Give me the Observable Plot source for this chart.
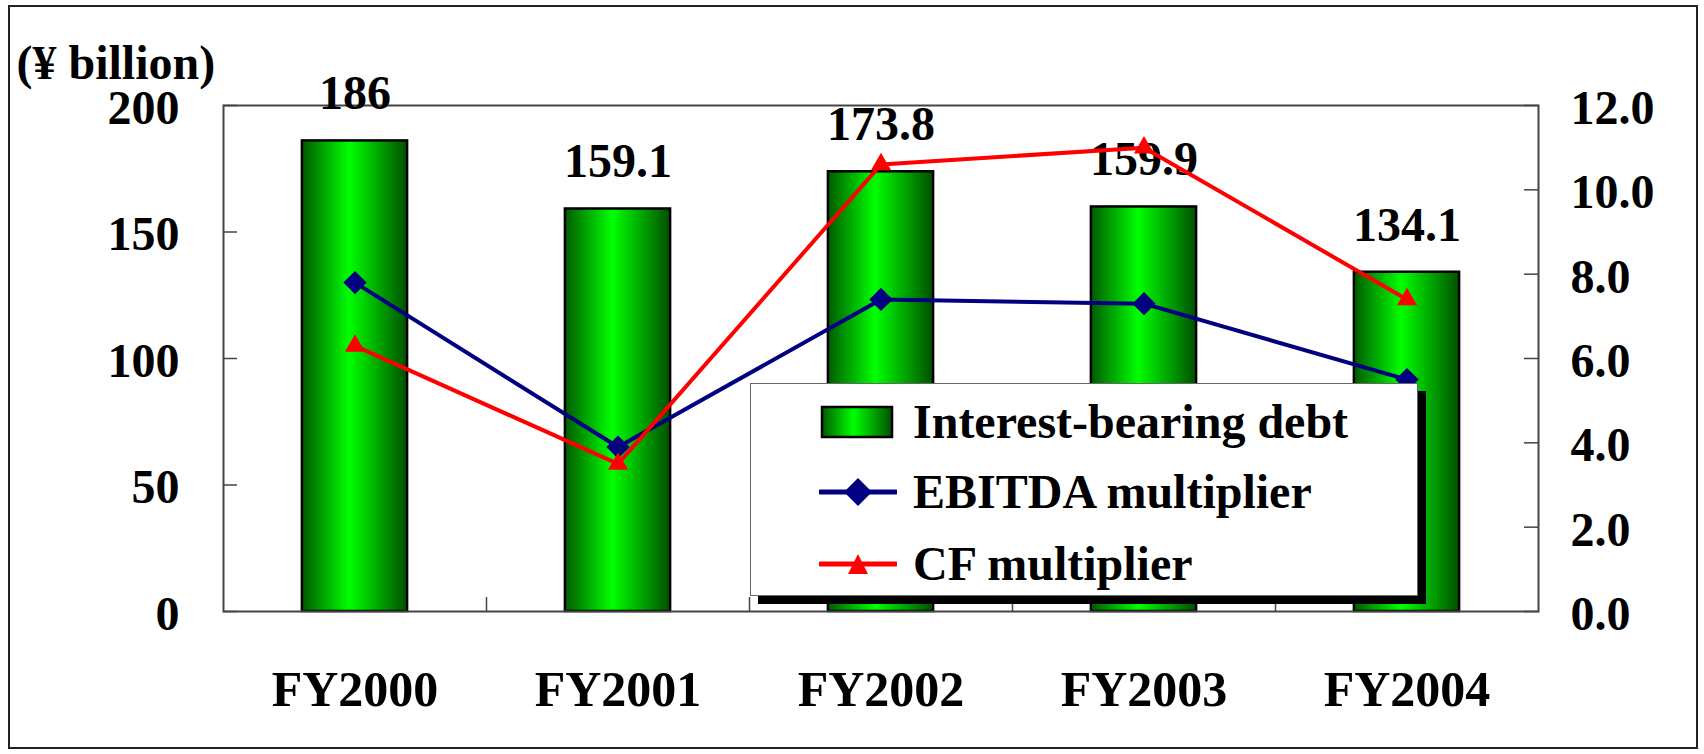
<!DOCTYPE html>
<html><head><meta charset="utf-8">
<script src="https://cdn.jsdelivr.net/npm/d3@7"></script>
<script src="https://cdn.jsdelivr.net/npm/@observablehq/plot@0.6"></script>
<style>
html,body{margin:0;padding:0;background:#fff;}
#wrap{position:relative;width:1704px;height:754px;overflow:hidden;font-family:"Liberation Serif","Times New Roman",serif;font-weight:bold;}
#border{position:absolute;left:8px;top:5px;width:1686px;height:740px;border:2px solid #222;pointer-events:none;}
#legend{position:absolute;left:750px;top:383px;width:666px;height:211px;background:#fff;border:1.5px solid #666;box-shadow:8px 8px 0 #000;}
.row{position:absolute;left:68px;height:50px;display:flex;align-items:center;font-size:48px;line-height:50px;color:#000;white-space:nowrap;}
.row svg{margin-right:16px;}
</style></head>
<body><div id="wrap"><div id="chart"></div><div id="legend"></div><div id="border"></div></div>
<script>
const categories = ["FY2000", "FY2001", "FY2002", "FY2003", "FY2004"];
const debt = [186, 159.1, 173.8, 159.9, 134.1];
const ebitda = [7.8, 3.9, 7.4, 7.3, 5.5];
const cf = [6.3, 3.5, 10.6, 11.0, 7.4];
const leftTicks = [0, 50, 100, 150, 200];
const rightTicks = [0, 2, 4, 6, 8, 10, 12];
const seriesNames = ["Interest-bearing debt", "EBITDA multiplier", "CF multiplier"];
const unitLabel = "(¥ billion)";

const W = 1704, H = 754, mL = 223, mR = 166, mT = 105, mB = 143;
const plotW = W - mL - mR, plotH = H - mT - mB;
const ratio = 200 / 12;
const font = {fontFamily: "Liberation Serif, Times New Roman, serif", fontWeight: "bold", fontSize: 48};

const rows = categories.map((c, i) => ({i, c, debt: debt[i], ebitda: ebitda[i], cf: cf[i]}));
const boundaries = categories.slice(1).map((_, i) => i + 0.5);

const chart = Plot.plot({
  width: W, height: H,
  marginLeft: mL, marginRight: mR, marginTop: mT, marginBottom: mB,
  style: {background: "transparent", color: "#000", overflow: "visible"},
  x: {domain: [-0.5, categories.length - 0.5]},
  y: {domain: [0, 200]},
  marks: [
    Plot.rectY(rows, {x1: d => d.i - 0.2, x2: d => d.i + 0.2, y: "debt", fill: "url(#barGrad)", stroke: "#000", strokeWidth: 2.5}),
    Plot.frame({stroke: "#444", strokeWidth: 2}),
    Plot.ruleY(leftTicks, {insetRight: plotW - 14, stroke: "#444", strokeWidth: 1.5}),
    Plot.ruleY(rightTicks.map(v => v * ratio), {insetLeft: plotW - 14, stroke: "#444", strokeWidth: 1.5}),
    Plot.ruleX(boundaries, {insetTop: plotH - 14, stroke: "#444", strokeWidth: 1.5}),
    Plot.axisY({ticks: leftTicks, tickSize: 0, tickPadding: 44, dy: 3, label: null, ...font}),
    Plot.axisY({anchor: "right", ticks: rightTicks.map(v => v * ratio), tickFormat: v => (v / ratio).toFixed(1), tickSize: 0, tickPadding: 32, dy: 3, label: null, ...font}),
    Plot.axisX({ticks: rows.map(d => d.i), tickFormat: i => categories[i], tickSize: 0, tickPadding: 59, label: null, fontFamily: font.fontFamily, fontWeight: "bold", fontSize: 50}),
    Plot.text([unitLabel], {frameAnchor: "top-left", dx: -207, dy: -42, textAnchor: "start", lineAnchor: "middle", text: d => d, ...font}),
    Plot.text(rows, {x: "i", y: "debt", text: d => String(d.debt), dy: -47, ...font}),
    Plot.line(rows, {x: "i", y: d => d.ebitda * ratio, stroke: "#000080", strokeWidth: 4}),
    Plot.dot(rows, {x: "i", y: d => d.ebitda * ratio, symbol: "diamond2", r: 10.5, fill: "#000080"}),
    Plot.line(rows, {x: "i", y: d => d.cf * ratio, stroke: "#ff0000", strokeWidth: 4}),
    Plot.dot(rows, {x: "i", y: d => d.cf * ratio, symbol: "triangle", r: 7.5, fill: "#ff0000"})
  ]
});

const gradStops = [[0, "#005a00"], [0.45, "#00ff00"], [1, "#005000"]];
const defs = d3.select(chart).insert("defs", ":first-child");
const grad = defs.append("linearGradient").attr("id", "barGrad").attr("x1", 0).attr("x2", 1).attr("y1", 0).attr("y2", 0);
gradStops.forEach(([o, c]) => grad.append("stop").attr("offset", o).attr("stop-color", c));
document.getElementById("chart").appendChild(chart);

// legend
const legend = document.getElementById("legend");
const rowTops = [13, 83, 155];
const swatches = [
  `<svg width="78" height="36"><defs><linearGradient id="lg" x1="0" x2="1"><stop offset="0" stop-color="#005a00"/><stop offset="0.45" stop-color="#00ff00"/><stop offset="1" stop-color="#005000"/></linearGradient></defs><rect x="3" y="3" width="70" height="30" fill="url(#lg)" stroke="#000" stroke-width="2.5"/></svg>`,
  `<svg width="78" height="36"><line x1="1" x2="77" y1="18" y2="18" stroke="#000080" stroke-width="5" stroke-linecap="round"/><path d="M39,4 L53,18 L39,32 L25,18 Z" fill="#000080"/></svg>`,
  `<svg width="78" height="36"><line x1="1" x2="77" y1="18" y2="18" stroke="#ff0000" stroke-width="5" stroke-linecap="round"/><path d="M39,8 L49,28 L29,28 Z" fill="#ff0000"/></svg>`
];
seriesNames.forEach((name, k) => {
  const r = document.createElement("div");
  r.className = "row";
  r.style.top = rowTops[k] + "px";
  r.innerHTML = swatches[k] + "<span>" + name + "</span>";
  legend.appendChild(r);
});
</script>
</body></html>
